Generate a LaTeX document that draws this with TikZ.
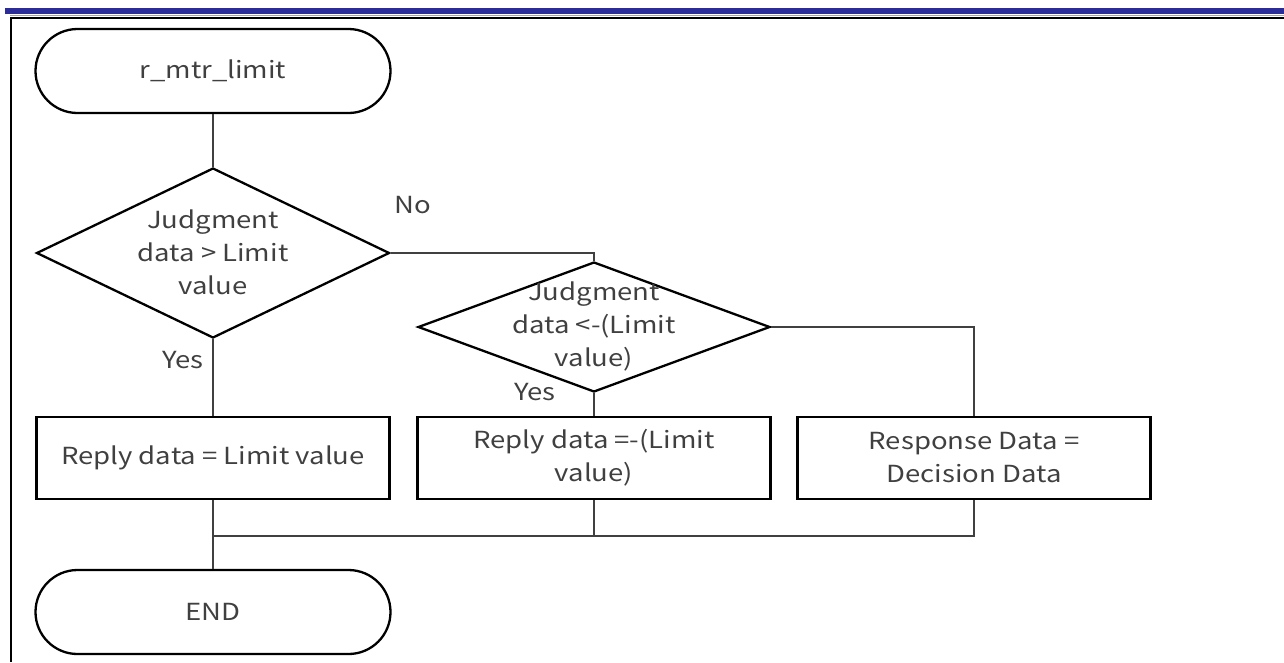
\documentclass[tikz,border=0pt]{standalone}
\usepackage{fontspec}
\setmainfont{Noto Sans CJK JP}[FakeStretch=1.17]
\usetikzlibrary{shapes.geometric}
\definecolor{barblue}{HTML}{2C2C98}
\definecolor{txt}{HTML}{404040}
\definecolor{wire}{HTML}{404040}
\tikzset{
  every node/.style={font=\fontsize{23.5}{33}\selectfont, text=txt},
  term/.style={draw=black, line width=2.3pt, rounded corners=42pt,
    minimum width=355pt, minimum height=84pt, inner sep=0pt},
  procbox/.style={draw=black, line width=2.3pt, minimum width=353pt,
    minimum height=82pt, inner sep=0pt, align=center},
  decision/.style={draw=black, line width=2.3pt, diamond, inner sep=0pt},
  dtext/.style={align=center, inner sep=0pt},
  conn/.style={draw=wire, line width=1.2pt},
  tag/.style={inner sep=0pt}
}
\begin{document}
\begin{tikzpicture}[x=1pt, y=-1pt]
\useasboundingbox (0,0) rectangle (1284,662);

% page frame
\fill[barblue] (5,8) rectangle (1284,14);
\draw[gray!70, line width=0.8pt] (10,15.6) -- (1284,15.6);
\draw[black, line width=1.6pt] (10,17.8) -- (1284,17.8);
\draw[black, line width=1.6pt] (10.8,17) -- (10.8,662);

% terminals
\node[term] (start) at (213,71) {r\_mtr\_limit};
\node[term] (end) at (213,612) {END};

% decisions
\node[decision, minimum width=353pt, minimum height=170pt] (d1) at (213,253) {};
\node[dtext] (d1t) at (213,252) {Judgment\\data > Limit\\value};
\node[decision, minimum width=352pt, minimum height=130pt] (d2) at (594,327) {};
\node[dtext] (d2t) at (594,326) {Judgment\\data <-(Limit\\value)};

% processes
\node[procbox] (b1) at (213,458) {Reply data = Limit value};
\node[procbox] (b2) at (594,458) {Reply data =-(Limit\\value)};
\node[procbox] (b3) at (974,458) {Response Data =\\Decision Data};

% branch labels
\node[tag] (no) at (413,205) {No};
\node[tag] (yes1) at (183,360) {Yes};
\node[tag] (yes2) at (535,392) {Yes};

% connectors
\coordinate (m) at (213,536);
\draw[conn] (start) -- (d1);
\draw[conn] (d1.east) -| (d2.north);
\draw[conn] (d1) -- (b1);
\draw[conn] (d2) -- (b2);
\draw[conn] (d2.east) -| (b3.north);
\draw[conn] (b1.south) -- (m) -- (end.north);
\draw[conn] (b2.south) |- (m);
\draw[conn] (b3.south) |- (m);
\end{tikzpicture}
\end{document}
